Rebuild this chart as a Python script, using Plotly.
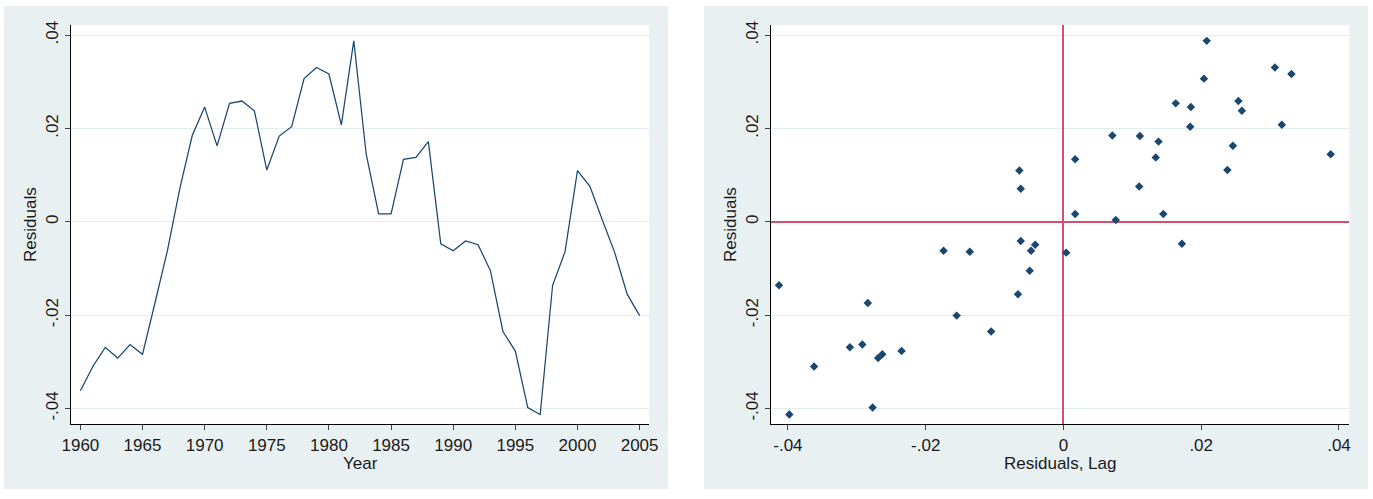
import plotly.graph_objects as go

# ---- data ----
years = list(range(1960, 2006))
residuals = [
    -0.0362, -0.0310, -0.0269, -0.0292, -0.0263, -0.0284, -0.0174, -0.0062,
    0.0071, 0.0185, 0.0246, 0.0163, 0.0254, 0.0259, 0.0238, 0.0111,
    0.0184, 0.0204, 0.0307, 0.0331, 0.0317, 0.0208, 0.0388, 0.0145,
    0.0017, 0.0017, 0.0134, 0.0138, 0.0172, -0.0047, -0.0062, -0.0041,
    -0.0049, -0.0105, -0.0235, -0.0277, -0.0398, -0.0413, -0.0136, -0.0064,
    0.0110, 0.0076, 0.0004, -0.0066, -0.0155, -0.0201,
]
year_ticks = [1960, 1965, 1970, 1975, 1980, 1985, 1990, 1995, 2000, 2005]
res_tickvals = [-0.04, -0.02, 0, 0.02, 0.04]
res_ticktext = ["-.04", "-.02", "0", ".02", ".04"]

lagged = residuals[:-1]
current = residuals[1:]

# ---- styling ----
W, H = 1373, 499
NAVY = "#1a476f"
RED = "#d4506e"
BG = "#e8f0f2"
GRID = "#e2edf0"
FONT = "Liberation Sans, Arial, sans-serif"
TXT = "#1a1a1a"

def px_x(p):
    return p / W

def px_y(p):
    return 1 - p / H

L_X0, L_X1 = 70.7, 649.3
R_X0, R_X1 = 770.7, 1349.3
P_Y0, P_Y1 = 25, 424.3

fig = go.Figure()

fig.add_trace(go.Scatter(
    x=years, y=residuals, mode="lines",
    line=dict(color=NAVY, width=1.25),
    xaxis="x", yaxis="y", showlegend=False,
))

fig.add_trace(go.Scatter(
    x=lagged, y=current, mode="markers",
    marker=dict(symbol="diamond", color=NAVY, size=6.5, line=dict(width=0)),
    xaxis="x2", yaxis="y2", showlegend=False,
))

axis_common = dict(
    showline=True, linecolor="black", linewidth=1.2,
    ticks="outside", ticklen=5, tickwidth=1.3, tickcolor="#444",
    tickfont=dict(family=FONT, size=17, color=TXT),
    title_font=dict(family=FONT, size=17, color=TXT),
    fixedrange=True, automargin=False,
)

y_common = dict(
    axis_common,
    range=[-0.0434, 0.0422],
    tickvals=res_tickvals, ticktext=res_ticktext,
    tickangle=-90,
    showgrid=True, gridcolor=GRID, gridwidth=1,
    domain=[px_y(P_Y1), px_y(P_Y0)],
)

fig.update_layout(
    width=W, height=H,
    margin=dict(l=0, r=0, t=0, b=0, autoexpand=False),
    paper_bgcolor="white",
    plot_bgcolor="white",
    font=dict(family=FONT, size=17, color=TXT),
    xaxis=dict(
        axis_common,
        domain=[px_x(L_X0), px_x(L_X1)],
        range=[1959.22, 2005.78],
        tickvals=year_ticks,
        showgrid=False, zeroline=False,
        anchor="y",
    ),
    yaxis=dict(
        y_common,
        zeroline=False,
        title=dict(text="Residuals", standoff=1),
        anchor="x",
    ),
    xaxis2=dict(
        axis_common,
        domain=[px_x(R_X0), px_x(R_X1)],
        range=[-0.0425, 0.0415],
        tickvals=res_tickvals, ticktext=res_ticktext,
        showgrid=False,
        zeroline=True, zerolinecolor=RED, zerolinewidth=1.6,
        anchor="y2",
    ),
    yaxis2=dict(
        y_common,
        zeroline=True, zerolinecolor=RED, zerolinewidth=1.6,
        title=dict(text="Residuals", standoff=1),
        anchor="x2",
    ),
    annotations=[
        dict(text="Year", xref="paper", yref="paper",
             x=px_x((L_X0 + L_X1) / 2), y=px_y(463),
             xanchor="center", yanchor="middle", showarrow=False,
             font=dict(family=FONT, size=17, color=TXT)),
        dict(text="Residuals, Lag", xref="paper", yref="paper",
             x=px_x((R_X0 + R_X1) / 2), y=px_y(463),
             xanchor="center", yanchor="middle", showarrow=False,
             font=dict(family=FONT, size=17, color=TXT)),
    ],
    shapes=[
        dict(type="rect", xref="paper", yref="paper",
             x0=px_x(4), x1=px_x(668), y0=px_y(489), y1=px_y(6),
             fillcolor=BG, line=dict(width=0), layer="below"),
        dict(type="rect", xref="paper", yref="paper",
             x0=px_x(704), x1=px_x(1368), y0=px_y(489), y1=px_y(6),
             fillcolor=BG, line=dict(width=0), layer="below"),
        dict(type="rect", xref="paper", yref="paper",
             x0=px_x(L_X0), x1=px_x(L_X1), y0=px_y(P_Y1), y1=px_y(P_Y0),
             fillcolor="white", line=dict(width=0), layer="below"),
        dict(type="rect", xref="paper", yref="paper",
             x0=px_x(R_X0), x1=px_x(R_X1), y0=px_y(P_Y1), y1=px_y(P_Y0),
             fillcolor="white", line=dict(width=0), layer="below"),
    ],
)

fig.write_html(
    "out.html",
    config={"displayModeBar": False},
    post_script="document.body.style.margin='0';document.body.style.overflow='hidden';",
)
